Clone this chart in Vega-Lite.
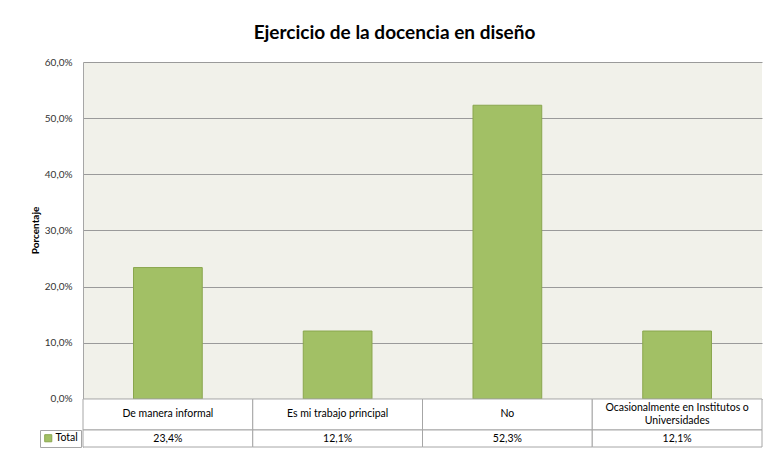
{
  "$schema": "https://vega.github.io/schema/vega-lite/v6.json",
  "width": 679,
  "height": 385,
  "autosize": {"type": "none"},
  "padding": {"left": 83, "top": 62, "right": 5, "bottom": 2},
  "background": "white",
  "config": {
    "locale": {"number": {"decimal": ",", "thousands": ".", "grouping": [3], "currency": ["", " €"]}},
    "view": {"stroke": null, "fill": "#F1F1EA"},
    "font": "Lato",
    "text": {"font": "Lato"}
  },
  "title": {
    "text": "Ejercicio de la docencia en diseño",
    "font": "Lato",
    "fontSize": 19,
    "fontWeight": "bold",
    "color": "#000000",
    "offset": 14,
    "dx": -28
  },
  "data": {
    "values": [
      {"cat": "De manera informal", "label": "De manera informal", "value": 0.234, "serie": "Total", "lines": 1},
      {"cat": "Es mi trabajo principal", "label": "Es mi trabajo principal", "value": 0.121, "serie": "Total", "lines": 1},
      {"cat": "No", "label": "No", "value": 0.523, "serie": "Total", "lines": 1},
      {"cat": "Ocasionalmente en Institutos o Universidades", "label": "Ocasionalmente en Institutos o\nUniversidades", "value": 0.121, "serie": "Total", "lines": 2}
    ]
  },
  "encoding": {
    "x": {"field": "cat", "type": "nominal", "sort": null, "axis": null,
          "scale": {"paddingInner": 0, "paddingOuter": 0}}
  },
  "layer": [
    {
      "mark": {"type": "bar", "width": {"band": 0.405}, "stroke": "#8AA64E", "strokeWidth": 1},
      "encoding": {
        "y": {"field": "value", "type": "quantitative",
              "scale": {"domain": [-0.0855, 0.6], "nice": false, "zero": false},
              "axis": {
                "values": [0, 0.1, 0.2, 0.3, 0.4, 0.5, 0.6],
                "format": ".1%",
                "ticks": false,
                "labelPadding": 11,
                "labelFontSize": 10,
                "labelColor": "#333333",
                "labelFont": "Lato",
                "grid": true,
                "gridColor": "#9A9A9A",
                "gridWidth": 1,
                "domain": true,
                "domainColor": "#A6A6A6",
                "title": "Porcentaje",
                "titleFont": "Lato",
                "titleFontSize": 10,
                "titleFontWeight": "bold",
                "titleColor": "#000000",
                "titleX": -43,
                "titleY": 168
              }},
        "y2": {"datum": 0},
        "color": {"field": "serie", "type": "nominal",
                  "scale": {"domain": ["Total"], "range": ["#A2C065"]},
                  "legend": {
                    "title": null,
                    "orient": "none",
                    "legendX": -43,
                    "legendY": 368,
                    "strokeColor": "#A6A6A6",
                    "fillColor": "white",
                    "padding": 3,
                    "symbolType": "square",
                    "symbolSize": 50,
                    "symbolStrokeColor": "#8AA64E",
                    "symbolStrokeWidth": 1,
                    "labelFontSize": 10.5,
                    "labelColor": "#000000",
                    "labelFont": "Lato",
                    "labelOffset": 2
                  }}
      }
    },
    {
      "mark": {"type": "rect", "fill": "white", "stroke": "#A6A6A6", "strokeWidth": 1},
      "encoding": {"y": {"datum": 0}, "y2": {"datum": -0.0552}}
    },
    {
      "mark": {"type": "rect", "fill": "white", "stroke": "#A6A6A6", "strokeWidth": 1},
      "encoding": {"y": {"datum": -0.0552}, "y2": {"datum": -0.0855}}
    },
    {
      "transform": [{"filter": "datum.lines == 1"}],
      "mark": {"type": "text", "fontSize": 10.5, "color": "#000000", "baseline": "middle"},
      "encoding": {"y": {"datum": -0.0276}, "text": {"field": "label"}}
    },
    {
      "transform": [{"filter": "datum.lines == 2"}],
      "mark": {"type": "text", "fontSize": 10.5, "color": "#000000", "baseline": "middle", "lineBreak": "\n", "lineHeight": 13},
      "encoding": {"y": {"datum": -0.0165}, "text": {"field": "label"}}
    },
    {
      "mark": {"type": "text", "fontSize": 10.5, "color": "#000000", "baseline": "middle"},
      "encoding": {"y": {"datum": -0.0704}, "text": {"field": "value", "type": "quantitative", "format": ".1%"}}
    }
  ]
}
